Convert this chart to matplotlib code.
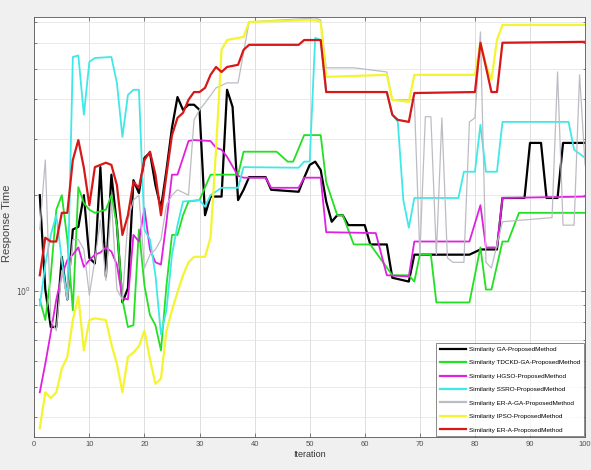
import matplotlib
matplotlib.use("Agg")
import matplotlib.pyplot as plt
from matplotlib.ticker import LogLocator, NullFormatter, FixedLocator, FixedFormatter

# ---- data (iteration, response time) ----
it_ga = [1,2,3,4,5,6,7,8,9,10,11,12,13,14,15,16,17,18,19,20,21,22,23,24,25,26,27,28,29,30,
         31,32,33,34,35,36,37,38,39,42,43,48,49,50,51,52,53,54,55,56,57,60,61,64,65,68,69,79,
         81,84,85,89,90,92,93,95,96,100]
rt_ga = [2.00,1.01,0.77,0.77,1.28,0.94,1.56,1.59,2.00,1.27,1.22,2.45,1.11,2.32,1.61,0.92,1.02,
         2.23,2.03,2.62,2.72,2.15,1.82,2.40,3.26,4.07,3.71,3.85,3.85,3.71,1.73,1.98,1.98,1.98,
         4.29,3.79,1.93,2.08,2.28,2.28,2.08,2.05,2.27,2.49,2.55,2.40,1.91,1.65,1.73,1.73,1.61,
         1.61,1.40,1.40,1.10,1.07,1.30,1.30,1.35,1.35,1.96,1.96,2.92,2.92,1.96,1.96,2.92,2.92]

it_tdckd = [1,2,3,4,5,6,7,8,9,10,11,13,14,15,16,17,18,19,20,21,22,23,24,25,26,27,28,30,32,34,
            37,38,44,46,47,49,52,53,55,56,58,61,65,68,69,70,72,73,79,81,82,83,85,86,88,100]
rt_tdckd = [0.94,0.81,1.12,1.80,2.00,1.45,0.87,2.12,1.89,1.80,1.76,1.80,2.00,1.61,0.94,0.77,
            0.78,1.56,1.04,0.84,0.78,0.65,1.04,1.50,1.50,1.73,1.91,1.93,2.32,2.32,2.32,2.74,
            2.74,2.55,2.55,3.09,3.09,2.20,1.73,1.73,1.40,1.40,1.12,1.12,1.07,1.30,1.30,0.92,
            0.92,1.37,1.01,1.01,1.43,1.43,1.76,1.76]

it_hgso = [1,2,3,4,5,6,7,8,9,10,11,12,13,14,15,16,17,18,19,20,21,22,23,24,25,26,27,28,29,
           32,33,34,35,37,38,42,43,48,49,52,53,62,64,68,69,79,81,82,84,85,100]
rt_hgso = [0.48,0.59,0.74,0.94,1.12,1.25,1.30,1.37,1.19,1.25,1.30,1.32,1.37,1.33,1.21,0.95,
           0.94,1.50,1.43,1.82,1.35,1.23,1.21,1.65,2.32,2.32,2.62,2.96,2.98,2.96,2.82,2.78,
           2.64,2.30,2.27,2.27,2.11,2.11,2.27,2.27,1.53,1.52,1.12,1.11,1.43,1.43,1.86,1.37,
           1.37,1.96,1.98]

it_ssro = [1,2,3,4,5,6,7,8,9,10,11,14,15,16,17,18,19,20,21,22,23,24,25,26,27,30,31,32,34,37,
           38,48,49,50,51,52,53,64,65,66,67,68,69,77,78,80,81,82,84,85,97,98,100]
rt_ssro = [0.90,1.21,1.50,1.73,1.25,0.94,5.44,5.50,3.58,5.25,5.40,5.44,4.51,3.05,4.13,4.29,
           4.29,1.56,1.45,1.12,0.73,0.87,1.30,1.61,1.91,1.93,1.84,2.00,2.11,2.11,2.45,2.44,
           2.55,2.55,6.25,6.15,4.22,4.22,3.58,3.40,1.93,1.58,1.96,1.96,2.37,2.37,3.33,2.37,
           2.37,3.40,3.40,2.78,2.62]

it_eraga = [1,2,3,4,5,6,7,8,9,10,11,12,13,14,15,16,17,18,19,20,21,22,23,24,25,26,28,29,30,31,
            33,35,37,39,51,52,53,58,64,65,69,70,71,72,73,74,75,76,78,79,80,81,82,83,85,94,95,
            96,98,99,100]
rt_eraga = [1.56,2.58,0.81,0.75,1.16,0.94,1.45,1.45,1.35,0.97,1.25,1.67,1.08,1.93,1.01,0.94,
            1.67,1.93,2.00,1.18,1.30,1.35,1.45,1.86,2.00,2.08,2.00,3.45,3.71,3.90,4.35,4.51,
            4.51,7.01,7.22,7.11,5.03,5.03,4.88,3.99,3.99,1.30,3.53,3.53,1.30,3.50,1.27,1.23,
            1.23,3.40,3.50,6.52,1.23,1.18,1.65,1.70,4.88,1.61,1.61,4.78,2.49]

it_ipso = [1,2,3,4,5,6,7,8,9,10,11,13,14,15,16,17,18,19,20,21,22,23,24,25,26,27,28,29,31,32,
           33,34,35,38,39,51,52,53,64,65,68,69,80,81,82,83,84,85,100]
rt_ipso = [0.37,0.48,0.46,0.48,0.57,0.62,0.81,0.96,0.65,0.81,0.82,0.81,0.68,0.59,0.48,0.62,
           0.64,0.67,0.75,0.61,0.51,0.53,0.75,0.87,0.99,1.12,1.23,1.28,1.28,1.47,2.78,5.73,
           6.15,6.29,7.01,7.11,7.01,4.71,4.78,3.99,3.93,4.78,4.78,6.03,5.14,4.61,6.15,6.86,6.86]

it_era = [1,2,3,4,5,6,7,8,9,10,11,12,13,14,15,16,17,18,19,20,21,22,23,24,25,26,27,28,29,30,
          31,32,33,34,35,37,38,39,48,49,52,53,64,65,66,68,69,80,81,82,83,84,85,100]
rt_era = [1.12,1.47,1.43,1.43,1.76,1.76,2.58,2.98,2.44,1.86,2.45,2.49,2.53,2.49,2.15,1.50,
          1.73,2.20,2.11,2.58,2.74,2.32,1.73,2.32,3.09,3.50,3.63,3.99,4.22,4.22,4.35,4.78,
          5.06,4.88,5.06,5.14,5.73,5.94,5.94,6.15,6.15,4.22,4.22,3.58,3.45,3.40,4.19,4.22,
          6.03,5.06,4.22,4.22,6.03,6.07]

labels = ["Similarity GA-ProposedMethod",
          "Similarity TDCKD-GA-ProposedMethod",
          "Similarity HGSO-ProposedMethod",
          "Similarity SSRO-ProposedMethod",
          "Similarity ER-A-GA-ProposedMethod",
          "Similarity IPSO-ProposedMethod",
          "Similarity ER-A-ProposedMethod"]
x_ticks = [0, 10, 20, 30, 40, 50, 60, 70, 80, 90, 100]

plt.rcParams['font.family'] = ['Liberation Sans', 'DejaVu Sans']

fig = plt.figure(figsize=(5.91, 4.70), dpi=100, facecolor='#f0f0f0')
ax = fig.add_axes([0.058, 0.070, 0.932, 0.894])
ax.set_facecolor('white')

series = [
    (it_ga, rt_ga, '#000000', 1.6),
    (it_tdckd, rt_tdckd, '#22e022', 1.3),
    (it_hgso, rt_hgso, '#e020e0', 1.3),
    (it_ssro, rt_ssro, '#40e8e8', 1.3),
    (it_eraga, rt_eraga, '#bcbcc4', 0.9),
    (it_ipso, rt_ipso, '#f4f430', 1.6),
    (it_era, rt_era, '#d81818', 1.6),
]
for (xs, ys, c, lw), lab in zip(series, labels):
    ax.plot(xs, ys, color=c, lw=lw, label=lab)

ax.set_yscale('log')
ax.set_xlim(0, 100)
ax.set_ylim(0.347, 7.27)
ax.set_xticks(x_ticks)
ax.yaxis.set_major_locator(FixedLocator([1]))
ax.yaxis.set_major_formatter(FixedFormatter([r'$10^{0}$']))
ax.yaxis.set_minor_locator(LogLocator(base=10, subs=range(2, 10), numticks=10))
ax.yaxis.set_minor_formatter(NullFormatter())

ax.grid(True, which='major', color='#dedede', lw=0.7)
ax.grid(True, which='minor', axis='y', color='#e6e6e6', lw=0.6)
ax.set_axisbelow(True)

ax.tick_params(which='both', direction='in', labelsize=5.5, colors='#505050', length=3,
               width=0.5, pad=2.5)
ax.tick_params(which='minor', length=1.8)
ax.tick_params(top=True, right=True, which='both')
for sp in ax.spines.values():
    sp.set_color('#555555')
    sp.set_linewidth(0.6)

ax.set_xlabel('Iteration', fontsize=6.5, color='#333333', labelpad=2)
ax.set_ylabel('Response Time', fontsize=8, color='#444444')
ax.yaxis.set_label_coords(-0.040, 0.51)

leg = ax.legend(loc='lower right', fontsize=4.6, handlelength=4.0, labelspacing=1.25,
                borderaxespad=0.1, frameon=True, fancybox=False, edgecolor='#555555',
                borderpad=0.6, handletextpad=0.6)
leg.get_frame().set_linewidth(0.6)
for line in leg.get_lines():
    line.set_linewidth(1.6)

fig.savefig('out.png', dpi=100, facecolor=fig.get_facecolor())
